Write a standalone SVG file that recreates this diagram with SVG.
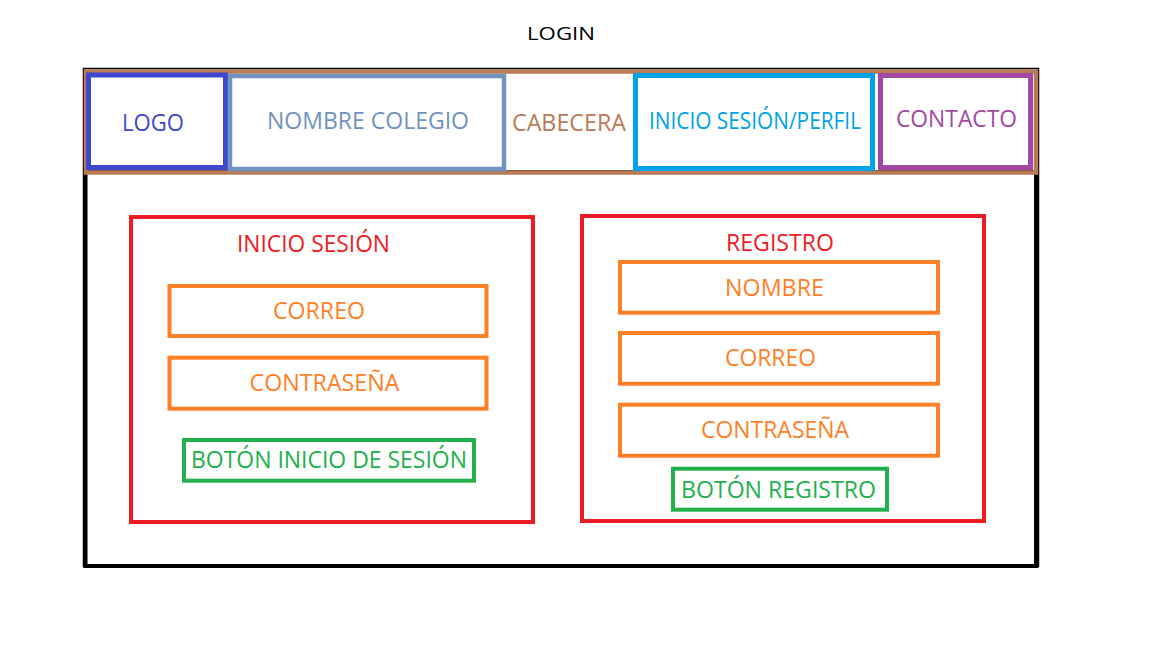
<svg xmlns="http://www.w3.org/2000/svg" width="1152" height="648" viewBox="0 0 1152 648">
<style>
text{font-family:"Open Sans","Liberation Sans",Arial,sans-serif;font-size:23px}
.box{fill:none}
.f{stroke:#FF7F27;stroke-width:4}
.g{stroke:#22B14C;stroke-width:4}
.r{stroke:#ED1C24;stroke-width:4}
</style>
<rect width="1152" height="648" fill="#fff"/>
<text x="527" y="39.5" style="font-size:17.5px" fill="#000" textLength="68" lengthAdjust="spacingAndGlyphs">LOGIN</text>
<g id="frame">
<rect class="box" x="83.5" y="68.5" width="955" height="498" stroke="#000" stroke-width="1.5"/>
<rect class="box" x="85.5" y="172" width="950.5" height="394" stroke="#000" stroke-width="4"/>
</g>
<g id="cabecera">
<rect class="box" x="86" y="71.5" width="950" height="101" stroke="#B97A57" stroke-width="4.5"/>
<text x="512" y="130.5" fill="#B97A57" textLength="114" lengthAdjust="spacingAndGlyphs">CABECERA</text>
</g>
<g id="logo">
<rect class="box" x="88.5" y="75" width="137" height="92.5" stroke="#3F48CC" stroke-width="5"/>
<text x="122" y="131" fill="#3F48CC" textLength="62" lengthAdjust="spacingAndGlyphs">LOGO</text>
</g>
<g id="nombre-colegio">
<rect class="box" x="230" y="76" width="274" height="93" stroke="#7092BE" stroke-width="4.5"/>
<text x="267" y="128.5" fill="#7092BE" textLength="202" lengthAdjust="spacingAndGlyphs">NOMBRE COLEGIO</text>
</g>
<g id="inicio-perfil">
<rect class="box" x="635.5" y="75.5" width="237" height="93" stroke="#00A2E8" stroke-width="5"/>
<text x="649" y="128.5" fill="#00A2E8" textLength="212" lengthAdjust="spacingAndGlyphs">INICIO SESIÓN/PERFIL</text>
</g>
<g id="contacto">
<rect class="box" x="880.5" y="75.5" width="150" height="92" stroke="#A349A4" stroke-width="5"/>
<text x="896" y="127" fill="#A349A4" textLength="121" lengthAdjust="spacingAndGlyphs">CONTACTO</text>
</g>
<g id="inicio-sesion">
<rect class="box r" x="131" y="217" width="402" height="305"/>
<text x="237" y="252" fill="#ED1C24" textLength="153" lengthAdjust="spacingAndGlyphs">INICIO SESIÓN</text>
</g>
<g id="is-correo">
<rect class="box f" x="169.5" y="286" width="317" height="50"/>
<text x="273" y="318.5" fill="#FF7F27" textLength="92" lengthAdjust="spacingAndGlyphs">CORREO</text>
</g>
<g id="is-contrasena">
<rect class="box f" x="169.5" y="357.7" width="317" height="51"/>
<text x="249.5" y="391" fill="#FF7F27" textLength="150" lengthAdjust="spacingAndGlyphs">CONTRASEÑA</text>
</g>
<g id="is-boton">
<rect class="box g" x="184" y="440" width="290" height="40.7"/>
<text x="191" y="467.5" fill="#22B14C" textLength="276" lengthAdjust="spacingAndGlyphs">BOTÓN INICIO DE SESIÓN</text>
</g>
<g id="registro">
<rect class="box r" x="582" y="216" width="402" height="305"/>
<text x="726" y="251" fill="#ED1C24" textLength="108" lengthAdjust="spacingAndGlyphs">REGISTRO</text>
</g>
<g id="r-nombre">
<rect class="box f" x="620" y="262" width="318" height="50.7"/>
<text x="725" y="296" fill="#FF7F27" textLength="99" lengthAdjust="spacingAndGlyphs">NOMBRE</text>
</g>
<g id="r-correo">
<rect class="box f" x="620" y="333" width="318" height="50.7"/>
<text x="725" y="366" fill="#FF7F27" textLength="91" lengthAdjust="spacingAndGlyphs">CORREO</text>
</g>
<g id="r-contrasena">
<rect class="box f" x="620" y="404.7" width="318" height="51"/>
<text x="701" y="438" fill="#FF7F27" textLength="148" lengthAdjust="spacingAndGlyphs">CONTRASEÑA</text>
</g>
<g id="r-boton">
<rect class="box g" x="673" y="468.7" width="214" height="41"/>
<text x="681" y="497.5" fill="#22B14C" textLength="195" lengthAdjust="spacingAndGlyphs">BOTÓN REGISTRO</text>
</g>
<g id="connectors"></g>
</svg>
